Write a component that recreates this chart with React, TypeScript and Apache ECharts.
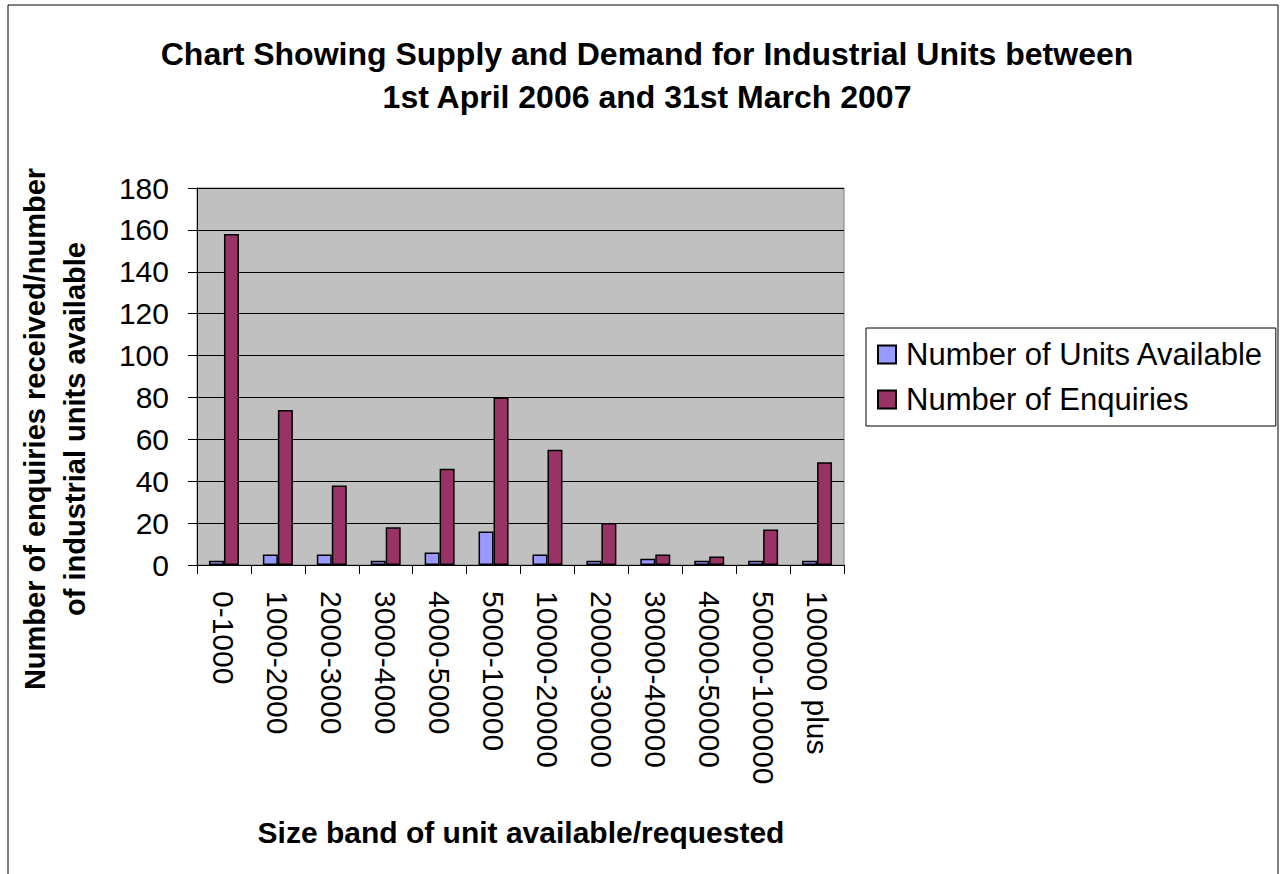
import React, { useEffect, useRef } from "react";
import * as echarts from "echarts";

const categories = [
  "0-1000", "1000-2000", "2000-3000", "3000-4000", "4000-5000", "5000-10000",
  "10000-20000", "20000-30000", "30000-40000", "40000-50000", "50000-100000", "100000 plus",
];
const unitsAvailable = [2, 5, 5, 2, 6, 16, 5, 2, 3, 2, 2, 2];
const enquiries = [158, 74, 38, 18, 46, 80, 55, 20, 5, 4, 17, 49];
const seriesNames = ["Number of Units Available", "Number of Enquiries"];
const titleLines = [
  "Chart Showing Supply and Demand for Industrial Units between",
  "1st April 2006 and 31st March 2007",
];
const yTitle = "Number of enquiries received/number\nof industrial units available";
const xTitle = "Size band of unit available/requested";

export default function App() {
  const ref = useRef<HTMLDivElement>(null);
  useEffect(() => {
    if (!ref.current) return;
    const chart = echarts.init(ref.current, null, { renderer: "svg" });
    const font = "Arial, 'Liberation Sans', sans-serif";
    chart.setOption({
      animation: false,
      backgroundColor: "#ffffff",
      textStyle: { fontFamily: font },
      grid: { left: 197, right: 441, top: 188, bottom: 309, show: true, backgroundColor: "#c0c0c0", borderColor: "#808080", borderWidth: 1 },
      legend: {
        orient: "vertical",
        left: 866,
        top: 328,
        padding: [11, 12, 11, 11],
        itemGap: 14,
        itemWidth: 18,
        itemHeight: 18,
        borderColor: "#000",
        borderWidth: 1,
        icon: "rect",
        textStyle: { fontSize: 31, color: "#000", fontFamily: font, padding: [0, 0, 0, 5] },
        data: seriesNames,
      },
      xAxis: {
        type: "category",
        data: categories,
        axisLine: { lineStyle: { color: "#000", width: 1 } },
        axisTick: { show: true, length: 9, lineStyle: { color: "#000" } },
        axisLabel: { rotate: -90, fontSize: 30, color: "#000", margin: 26, fontFamily: font, interval: 0 },
      },
      yAxis: {
        type: "value",
        min: 0,
        max: 180,
        interval: 20,
        axisLine: { show: true, lineStyle: { color: "#000", width: 1 } },
        axisTick: { show: true, length: 9, lineStyle: { color: "#000" } },
        axisLabel: { fontSize: 30, color: "#000", margin: 28, fontFamily: font },
        splitLine: { lineStyle: { color: "#000", width: 1 } },
      },
      series: [
        {
          name: seriesNames[0],
          type: "bar",
          data: unitsAvailable,
          barWidth: 15,
          barGap: "0%",
          itemStyle: { color: "#9999ff", borderColor: "#000", borderWidth: 1.5 },
        },
        {
          name: seriesNames[1],
          type: "bar",
          data: enquiries,
          barWidth: 15,
          barGap: "0%",
          itemStyle: { color: "#993366", borderColor: "#000", borderWidth: 1.5 },
        },
      ],
      graphic: [
        {
          type: "rect",
          shape: { x: 8, y: 5, width: 1270, height: 880 },
          style: { fill: "none", stroke: "#000", lineWidth: 1 },
          silent: true,
        },
        ...titleLines.map((t, i) => ({
          type: "text",
          x: 647,
          y: 54 + i * 43,
          style: {
            text: t,
            fill: "#000",
            font: `bold 32px ${font}`,
            align: "center",
            verticalAlign: "middle",
          },
        })),
        {
          type: "text",
          x: 55,
          y: 429,
          rotation: Math.PI / 2,
          style: {
            text: yTitle,
            fill: "#000",
            font: `bold 29px ${font}`,
            align: "center",
            verticalAlign: "middle",
            lineHeight: 40,
          },
        },
        {
          type: "text",
          x: 521,
          y: 832,
          style: {
            text: xTitle,
            fill: "#000",
            font: `bold 30px ${font}`,
            align: "center",
            verticalAlign: "middle",
          },
        },
      ],
    });
    return () => chart.dispose();
  }, []);
  return <div ref={ref} style={{ position: "absolute", left: 0, top: 0, width: 1285, height: 874 }} />;
}
